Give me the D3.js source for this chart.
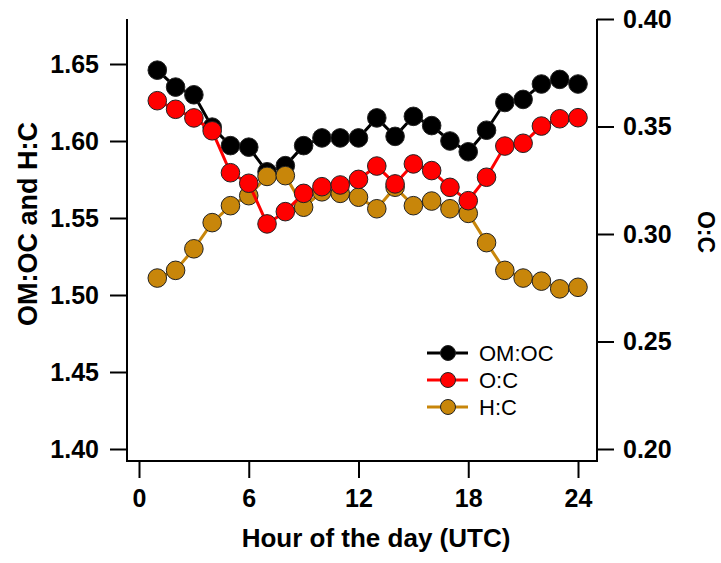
<!DOCTYPE html>
<html>
<head>
<meta charset="utf-8">
<script src="https://cdn.jsdelivr.net/npm/d3@7"></script>
<style>
  html, body { margin: 0; padding: 0; background: #fff; }
  svg { display: block; font-family: "Liberation Sans", Arial, sans-serif; }
</style>
</head>
<body>
<svg id="chart" width="721" height="563"></svg>
<script>
// ---- data ----
const hours = [1,2,3,4,5,6,7,8,9,10,11,12,13,14,15,16,17,18,19,20,21,22,23,24];
const omoc = [1.646,1.635,1.630,1.609,1.597,1.596,1.580,1.584,1.597,1.602,1.602,1.602,
              1.615,1.603,1.616,1.610,1.600,1.593,1.607,1.625,1.627,1.637,1.640,1.637];
const oc = [0.362,0.358,0.354,0.348,0.3285,0.3236,0.3047,0.3104,0.3189,0.3220,0.3228,0.3254,
            0.3316,0.3233,0.3326,0.3295,0.3217,0.3155,0.3264,0.3409,0.3422,0.3502,0.3536,0.3541];
const hc = [1.511,1.516,1.530,1.547,1.558,1.5645,1.577,1.5775,1.557,1.567,1.566,1.5635,
            1.556,1.570,1.558,1.561,1.556,1.553,1.534,1.516,1.511,1.509,1.504,1.505];
const xTicks = [0,6,12,18,24];
const yLeftTicks = [1.40,1.45,1.50,1.55,1.60,1.65];
const yRightTicks = [0.20,0.25,0.30,0.35,0.40];
const seriesNames = ["OM:OC","O:C","H:C"];
const seriesColors = ["#000000","#ff0000","#c8860a"];

// ---- layout ----
const svg = d3.select("#chart");
const x = d3.scaleLinear().domain([0,24]).range([139,578]);
const yL = d3.scaleLinear().domain([1.40,1.65]).range([449,64]);
const yR = d3.scaleLinear().domain([0.20,0.40]).range([449,19]);
const axL = 127, axR = 597, axB = 461, axT = 19;

// axes
function styleAxis(g) {
  g.select(".domain").remove();
  g.selectAll(".tick line").attr("stroke","#000").attr("stroke-width",2);
  g.selectAll(".tick text").attr("fill","#000")
    .style("font-size","25px").style("font-weight","bold")
    .style("font-family","'Liberation Sans', Arial, sans-serif");
}
svg.append("g").attr("transform",`translate(${axL},0)`)
  .call(d3.axisLeft(yL).tickValues(yLeftTicks).tickFormat(d3.format(".2f")).tickSize(17).tickPadding(11))
  .call(styleAxis);
svg.append("g").attr("transform",`translate(${axR},0)`)
  .call(d3.axisRight(yR).tickValues(yRightTicks).tickFormat(d3.format(".2f")).tickSize(17).tickPadding(9))
  .call(styleAxis);
svg.append("g").attr("transform",`translate(0,${axB})`)
  .call(d3.axisBottom(x).tickValues(xTicks).tickFormat(d3.format("d")).tickSize(17).tickPadding(11))
  .call(styleAxis);

// axis lines
const frame = svg.append("g").attr("stroke","#000").attr("stroke-width",2).attr("fill","none");
frame.append("path").attr("d",`M${axL},${axT}V${axB}H${axR}V${axT}`);

// axis titles
svg.append("text").attr("x",376).attr("y",547).attr("text-anchor","middle")
  .style("font-size","26px").style("font-weight","bold").text("Hour of the day (UTC)");
svg.append("text").attr("transform","translate(37,224) rotate(-90)").attr("text-anchor","middle")
  .style("font-size","27px").style("font-weight","bold").text("OM:OC and H:C");
svg.append("text").attr("transform","translate(698,232) rotate(90)").attr("text-anchor","middle")
  .style("font-size","23px").style("font-weight","bold").text("O:C");

// series
const series = [
  {name: seriesNames[0], color: seriesColors[0], vals: omoc, y: yL},
  {name: seriesNames[2], color: seriesColors[2], vals: hc, y: yL},
  {name: seriesNames[1], color: seriesColors[1], vals: oc, y: yR}
];
series.forEach(s => {
  const pts = hours.map((h,i) => [h, s.vals[i]]);
  const line = d3.line().x(d => x(d[0])).y(d => s.y(d[1]));
  const g = svg.append("g");
  g.append("path").datum(pts).attr("d", line).attr("fill","none")
    .attr("stroke", s.color).attr("stroke-width",3);
  g.selectAll("circle").data(pts).join("circle")
    .attr("cx", d => x(d[0])).attr("cy", d => s.y(d[1])).attr("r", 9.3)
    .attr("fill", s.color).attr("stroke", "#222").attr("stroke-width", 1);
});

// legend
const legend = svg.append("g");
const legendRows = [0,1,2];
legendRows.forEach((i) => {
  const yy = 353 + i*27;
  legend.append("line").attr("x1",427).attr("x2",468).attr("y1",yy).attr("y2",yy)
    .attr("stroke",seriesColors[i]).attr("stroke-width",3);
  legend.append("circle").attr("cx",448).attr("cy",yy).attr("r",7.5)
    .attr("fill",seriesColors[i]).attr("stroke","#222").attr("stroke-width",1);
  legend.append("text").attr("x",479).attr("y",yy+8)
    .style("font-size","22px").text(seriesNames[i]);
});
</script>
</body>
</html>
